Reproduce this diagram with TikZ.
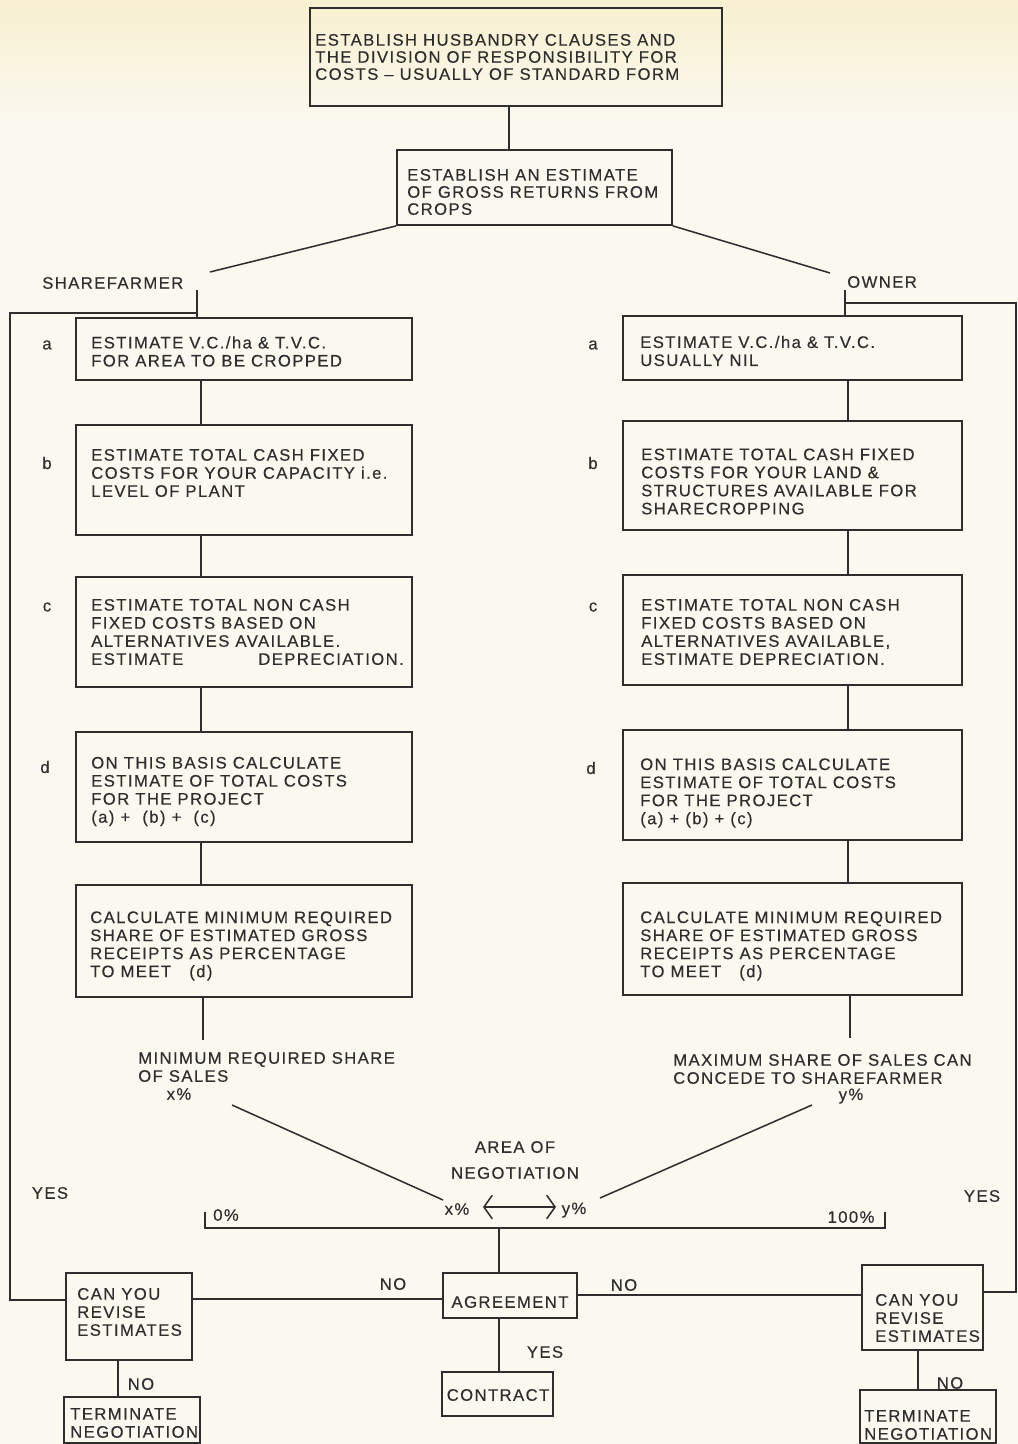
\documentclass[tikz,border=0pt]{standalone}
\usepackage{fontspec}
\setmainfont{Liberation Sans}[LetterSpace=8.5,FakeBold=0.35]
\usetikzlibrary{arrows.meta,fit}
\definecolor{ink}{HTML}{2E2E2E}
\definecolor{paper}{HTML}{FBF8EF}
\definecolor{paperY}{HTML}{F8F0CF}
\newcommand{\bxf}{\fontsize{12}{13}\selectfont}
\newcommand{\topf}{\fontsize{12}{12.3}\selectfont}
\begin{document}
\begin{tikzpicture}[x=0.72pt,y=-0.72pt,
  box/.style={draw=ink,line width=1.3pt,inner sep=0pt},
  txt/.style={anchor=west,align=left,inner sep=0pt,font=\bxf,text=ink},
  lbl/.style={inner sep=0pt,font=\bxf,text=ink},
  conn/.style={draw=ink,line width=1.1pt}]
\useasboundingbox (0,0) rectangle (1018,1444);
\fill[paper] (0,0) rectangle (1018,1444);
\shade[top color=paperY,bottom color=paper] (0,0) rectangle (1018,120);

% top boxes
\node[box,fit={(310,8) (722,106)}] (top) {};
\node[txt,font=\topf] (toptx) at (315,57) {ESTABLISH HUSBANDRY CLAUSES AND\\THE DIVISION OF RESPONSIBILITY FOR\\COSTS – USUALLY OF STANDARD FORM};
\node[box,fit={(397,150) (672,225)}] (est) {};
\node[txt,font=\topf] (esttx) at (407,192) {ESTABLISH AN ESTIMATE\\OF GROSS RETURNS FROM\\CROPS};
\coordinate (tx) at (509,0);
\draw[conn] (top.south -| tx) -- (est.north -| tx);

\coordinate (sfend) at (210,272);
\coordinate (owend) at (830,273);
\draw[conn] (est.south west) -- (sfend);
\draw[conn] (est.south east) -- (owend);
\node[lbl,anchor=west] (sf) at (42,283) {SHAREFARMER};
\node[lbl,anchor=west] (ow) at (847,282) {OWNER};

% left column
\node[box,fit={(76,318) (412,380)}] (la) {};
\node[txt] (lat) at (91,351.5) {ESTIMATE V.C./ha \& T.V.C.\\FOR AREA TO BE CROPPED};
\node[lbl] (lal) at (47,345) {a};
\node[box,fit={(76,425) (412,535)}] (lb) {};
\node[txt] (lbt) at (91,473) {ESTIMATE TOTAL CASH FIXED\\COSTS FOR YOUR CAPACITY i.e.\\LEVEL OF PLANT};
\node[lbl] (lbl) at (47,463) {b};
\node[box,fit={(76,577) (412,687)}] (lc) {};
\node[txt] (lct) at (91,632) {ESTIMATE TOTAL NON CASH\\FIXED COSTS BASED ON\\ALTERNATIVES AVAILABLE.\\\makebox[225pt][s]{ESTIMATE\hfill DEPRECIATION.}};
\node[lbl] (lcl) at (47,607) {c};
\node[box,fit={(76,732) (412,842)}] (ld) {};
\node[txt] (ldt) at (91,791.5) {ON THIS BASIS CALCULATE\\ESTIMATE OF TOTAL COSTS\\FOR THE PROJECT\\(a) + \ (b) + \ (c)};
\node[lbl] (ldl) at (45,767) {d};
\node[box,fit={(76,885) (412,997)}] (le) {};
\node[txt] (let) at (90,946) {CALCULATE MINIMUM REQUIRED\\SHARE OF ESTIMATED GROSS\\RECEIPTS AS PERCENTAGE\\TO MEET \ \ (d)};

\coordinate (lx) at (201,0);
\coordinate (lt) at (197,290);
\draw[conn] (lt) -- (lt |- la.north);
\draw[conn] (la.south -| lx) -- (lb.north -| lx);
\draw[conn] (lb.south -| lx) -- (lc.north -| lx);
\draw[conn] (lc.south -| lx) -- (ld.north -| lx);
\draw[conn] (ld.south -| lx) -- (le.north -| lx);
\coordinate (lend) at (203,1040);
\draw[conn] (le.south -| lend) -- (lend);

% right column
\node[box,fit={(623,316) (962,380)}] (ra) {};
\node[txt] (rat) at (640,351) {ESTIMATE V.C./ha \& T.V.C.\\USUALLY NIL};
\node[lbl] (ral) at (593,345) {a};
\node[box,fit={(623,421) (962,530)}] (rb) {};
\node[txt] (rbt) at (641,481.5) {ESTIMATE TOTAL CASH FIXED\\COSTS FOR YOUR LAND \&\\STRUCTURES AVAILABLE FOR\\SHARECROPPING};
\node[lbl] (rbl) at (593,463) {b};
\node[box,fit={(623,575) (962,685)}] (rc) {};
\node[txt] (rct) at (641,632) {ESTIMATE TOTAL NON CASH\\FIXED COSTS BASED ON\\ALTERNATIVES AVAILABLE,\\ESTIMATE DEPRECIATION.};
\node[lbl] (rcl) at (593,607) {c};
\node[box,fit={(623,730) (962,840)}] (rd) {};
\node[txt] (rdt) at (640,793) {ON THIS BASIS CALCULATE\\ESTIMATE OF TOTAL COSTS\\FOR THE PROJECT\\(a) + (b) + (c)};
\node[lbl] (rdl) at (591,768) {d};
\node[box,fit={(623,883) (962,995)}] (re) {};
\node[txt] (ret) at (640,946) {CALCULATE MINIMUM REQUIRED\\SHARE OF ESTIMATED GROSS\\RECEIPTS AS PERCENTAGE\\TO MEET \ \ (d)};

\coordinate (rx) at (848,0);
\coordinate (rt) at (845,290);
\draw[conn] (rt) -- (rt |- ra.north);
\draw[conn] (ra.south -| rx) -- (rb.north -| rx);
\draw[conn] (rb.south -| rx) -- (rc.north -| rx);
\draw[conn] (rc.south -| rx) -- (rd.north -| rx);
\draw[conn] (rd.south -| rx) -- (re.north -| rx);
\coordinate (rend) at (850,1038);
\draw[conn] (re.south -| rend) -- (rend);

% share labels
\node[txt] (lmin) at (138,1067) {MINIMUM REQUIRED SHARE\\OF SALES};
\node[lbl] (xpa) at (179,1094) {x\%};
\node[txt] (rmax) at (673,1069) {MAXIMUM SHARE OF SALES CAN\\CONCEDE TO SHAREFARMER};
\node[lbl] (ypa) at (851,1096) {y\%};

\coordinate (d1a) at (232,1105);
\coordinate (d1b) at (443,1200);
\coordinate (d2a) at (812,1105);
\coordinate (d2b) at (600,1198);
\draw[conn] (d1a) -- (d1b);
\draw[conn] (d2a) -- (d2b);

\node[lbl,align=center,font=\fontsize{12}{18.7}\selectfont] (area) at (515,1160) {AREA OF\\NEGOTIATION};
\node[lbl] (xpb) at (457,1209) {x\%};
\node[lbl] (ypb) at (574,1210) {y\%};
\coordinate (al) at (483,1207);
\coordinate (ar) at (556,1207);
\draw[conn,{Straight Barb[length=6pt,width=17pt]}-{Straight Barb[length=6pt,width=17pt]}] (al) -- (ar);

% percentage bar
\coordinate (b0t) at (205,1212);
\coordinate (b0) at (205,1228);
\coordinate (b1) at (885,1228);
\coordinate (b1t) at (885,1212);
\draw[conn] (b0t) -- (b0) -- (b1) -- (b1t);
\node[lbl] (zero) at (226,1215) {0\%};
\node[lbl] (hund) at (851,1217) {100\%};
\node[lbl] (yesl) at (50,1193) {YES};
\node[lbl] (yesr) at (982,1196) {YES};

% agreement / contract
\coordinate (bm) at (499,1228);
\node[box,fit={(443,1273) (577,1318)}] (agr) {};
\node[lbl] (agrt) at (510,1302) {AGREEMENT};
\draw[conn] (bm) -- (bm |- agr.north);
\node[box,fit={(442,1372) (553,1416)}] (con) {};
\node[lbl] (cont) at (498,1395) {CONTRACT};
\draw[conn] (agr.south -| bm) -- (con.north -| bm);
\node[lbl] (yesc) at (545,1352) {YES};
\node[lbl] (nol) at (393,1284) {NO};
\node[lbl] (nor) at (624,1285) {NO};

% revise boxes
\node[box,fit={(66,1273) (192,1360)}] (lcan) {};
\node[txt] (lcant) at (77,1312) {CAN YOU\\REVISE\\ESTIMATES};
\node[box,fit={(862,1265) (983,1350)}] (rcan) {};
\node[txt] (rcant) at (875,1318) {CAN YOU\\REVISE\\ESTIMATES};
\coordinate (hl) at (0,1299);
\coordinate (hr) at (0,1295);
\draw[conn] (lcan.east |- hl) -- (agr.west |- hl);
\draw[conn] (agr.east |- hr) -- (rcan.west |- hr);

% terminate boxes
\node[box,fit={(64,1397) (200,1443)}] (lterm) {};
\node[txt] (ltermt) at (70,1423) {TERMINATE\\NEGOTIATION};
\node[box,fit={(860,1390) (996,1443)}] (rterm) {};
\node[txt] (rtermt) at (864,1425) {TERMINATE\\NEGOTIATION};
\coordinate (lv) at (118,0);
\coordinate (rv) at (918,0);
\draw[conn] (lcan.south -| lv) -- (lterm.north -| lv);
\draw[conn] (rcan.south -| rv) -- (rterm.north -| rv);
\node[lbl] (nolt) at (141,1384) {NO};
\node[lbl] (nort) at (950,1383) {NO};

% feedback loops
\coordinate (lcorner) at (10,1300);
\coordinate (lfb) at (10,313);
\draw[conn] (lcorner -| lcan.west) -- (lcorner) -- (lfb) -- (lfb -| lt);
\coordinate (rcorner) at (1016,1292);
\coordinate (rfb) at (1016,303);
\draw[conn] (rcorner -| rcan.east) -- (rcorner) -- (rfb) -- (rfb -| rt);
\end{tikzpicture}
\end{document}
